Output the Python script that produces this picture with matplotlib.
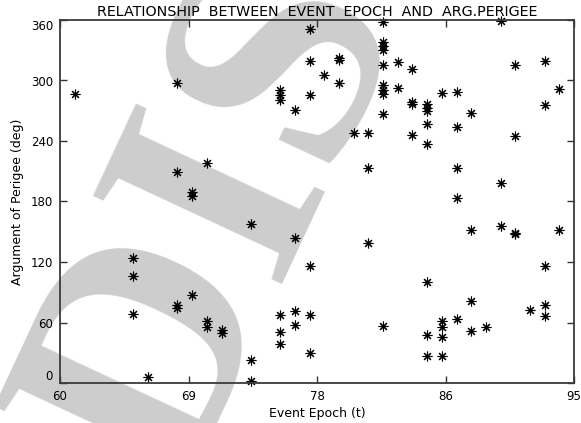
import matplotlib
matplotlib.use("Agg")
import matplotlib.pyplot as plt

################################################################################
# event epoch (t) -> argument of perigee (deg)

epoch = [61,
         65, 65, 65,
         66,
         68, 68, 68, 68,
         69, 69, 69,
         70, 70, 70,
         71, 71,
         73, 73, 73,
         75, 75, 75, 75, 75, 75,
         76, 76, 76, 76,
         77, 77, 77, 77, 77, 77,
         78,
         79, 79, 79,
         80,
         81, 81, 81,
         82, 82, 82, 82, 82, 82, 82, 82, 82, 82,
         83, 83,
         84, 84, 84, 84,
         85, 85, 85, 85, 85, 85, 85, 85,
         86, 86, 86, 86, 86,
         87, 87, 87, 87, 87,
         88, 88, 88, 88,
         89,
         90, 90, 90,
         91, 91, 91, 91,
         92,
         93, 93, 93, 93, 93,
         94, 94]

perigee = [287,
           124, 106, 68,
           6,
           298, 209, 77, 74,
           189, 185, 87,
           218, 61, 56,
           53, 50,
           158, 23, 2,
           291, 286, 281, 67, 51, 39,
           271, 144, 71, 58,
           351, 319, 286, 116, 67, 30,
           305,
           322, 320, 298,
           248,
           248, 213, 139,
           358, 338, 334, 330, 315, 296, 291, 287, 267, 57,
           318, 293,
           311, 279, 277, 246,
           277, 273, 270, 257, 237, 100, 48, 27,
           288, 61, 56, 46, 27,
           289, 254, 213, 183, 63,
           268, 152, 81, 52,
           56,
           359, 198, 156,
           315, 245, 149, 148,
           72,
           319, 276, 116, 77, 66,
           292, 152]

xticks = [60, 68.75, 77.5, 86.25, 95]
xlabels = ['60', '69', '78', '86', '95']
yticks = [0, 60, 120, 180, 240, 300, 360]

################################################################################

plt.rcParams['font.family'] = ['DejaVu Sans']

fig = plt.figure(figsize=(5.81, 4.23), dpi=100)
ax = fig.add_axes([60/581, 1 - 383/423, 514/581, 363/423])
ax.set_facecolor('none')

# big grey watermark behind everything
fig.text(0.307, -0.1686, 'DIS', family='Liberation Serif', weight='bold',
         fontsize=228, color='#cdcdcd', rotation=65, rotation_mode='anchor',
         ha='left', va='baseline', zorder=-1)

ax.plot(epoch, perigee, linestyle='none', marker=(8, 2, 0), ms=7, mew=0.8,
        color='black', clip_on=False)

ax.set_xlim(60, 95)
ax.set_ylim(0, 360)
ax.set_xticks(xticks)
ax.set_xticklabels(xlabels)
ax.set_yticks(yticks)
ax.tick_params(direction='in', length=5, width=1, color='#333333',
               top=True, right=True, labelsize=8.5, pad=5)
for s in ax.spines.values():
    s.set_color('#3a3a3a')
    s.set_linewidth(1.3)

yl = ax.get_yticklabels()
yl[0].set_va('bottom')
yl[-1].set_va('top')

ax.set_xlabel('Event Epoch (t)', fontsize=9, labelpad=3)
ax.set_ylabel('Argument of Perigee (deg)', fontsize=9, labelpad=5)

fig.text(317/581, 1 - 16/423, 'RELATIONSHIP  BETWEEN  EVENT  EPOCH  AND  ARG.PERIGEE',
         ha='center', va='baseline', fontsize=10.3)

fig.savefig('out.png', dpi=100)
